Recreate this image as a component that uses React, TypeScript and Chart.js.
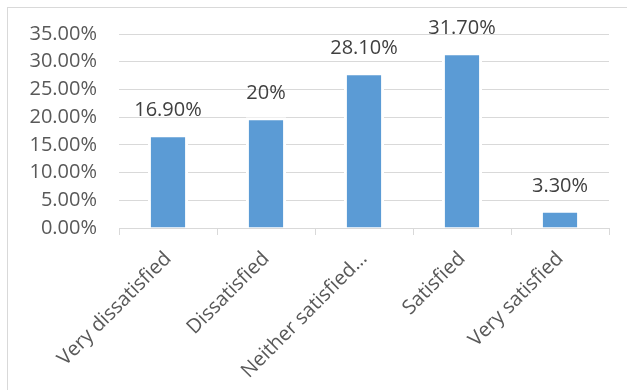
import React, { useEffect, useRef } from "react";
import { Chart, registerables } from "chart.js";

Chart.register(...registerables);

// Survey responses: share of respondents per satisfaction level (percent)
const categories = [
  "Very dissatisfied",
  "Dissatisfied",
  "Neither satisfied…",
  "Satisfied",
  "Very satisfied",
];
const shares = [16.9, 20, 28.1, 31.7, 3.3];
const yTickMax = 35;
const yTickStep = 5;

const FONT = "'Open Sans', 'Liberation Sans', sans-serif";
const TEXT = "#595959";
const LABEL = "#404040";
const GRID = "#d9d9d9";
const BAR = "#5b9bd5";

const fmtValue = (v: number) =>
  Number.isInteger(v) ? `${v}%` : `${v.toFixed(2)}%`;

// Writes each bar's value above it
const valueLabels = {
  id: "valueLabels",
  afterDatasetsDraw(chart: any) {
    const { ctx } = chart;
    const meta = chart.getDatasetMeta(0);
    ctx.save();
    ctx.font = `20px ${FONT}`;
    ctx.fillStyle = LABEL;
    ctx.textAlign = "center";
    ctx.textBaseline = "alphabetic";
    meta.data.forEach((bar: any, i: number) => {
      ctx.fillText(fmtValue(shares[i]), bar.x, bar.y - 18);
    });
    ctx.restore();
  },
};

export default function App() {
  const canvasRef = useRef<HTMLCanvasElement | null>(null);

  useEffect(() => {
    if (!canvasRef.current) return;
    const chart = new Chart(canvasRef.current, {
      type: "bar",
      data: {
        labels: categories,
        datasets: [
          {
            data: shares,
            backgroundColor: BAR,
            borderColor: "#ffffff",
            borderWidth: 3,
            categoryPercentage: 1,
            barPercentage: 0.41,
          },
        ],
      },
      options: {
        animation: false,
        responsive: false,
        maintainAspectRatio: false,
        layout: { padding: { top: 30, right: 18, left: 0, bottom: 0 } },
        plugins: {
          legend: { display: false },
          tooltip: { enabled: false },
        },
        scales: {
          x: {
            offset: true,
            grid: {
              offset: true,
              drawOnChartArea: false,
              drawTicks: true,
              tickLength: 7,
              color: GRID,
            },
            border: { display: true, color: GRID },
            ticks: {
              color: TEXT,
              font: { family: FONT, size: 20 },
              maxRotation: 45,
              minRotation: 45,
              padding: 12,
              autoSkip: false,
            },
            afterFit(scale: any) {
              scale.height = 162;
            },
          },
          y: {
            min: 0,
            max: yTickMax,
            border: { display: false },
            grid: { color: GRID, drawTicks: false, lineWidth: 1 },
            ticks: {
              stepSize: yTickStep,
              color: TEXT,
              font: { family: FONT, size: 20 },
              padding: 22,
              callback: (v: any) => `${Number(v).toFixed(2)}%`,
            },
            afterFit(scale: any) {
              scale.width = 119;
            },
          },
        },
      },
      plugins: [valueLabels],
    });
    return () => chart.destroy();
  }, []);

  return (
    <div
      style={{
        position: "fixed",
        left: 0,
        top: 0,
        width: 627,
        height: 390,
        background: "#ffffff",
        overflow: "hidden",
      }}
    >
      <div
        style={{
          position: "absolute",
          left: 7,
          top: 7,
          width: 640,
          height: 400,
          border: `1px solid ${GRID}`,
        }}
      />
      <canvas
        ref={canvasRef}
        width={627}
        height={390}
        style={{ position: "absolute", left: 0, top: 0 }}
      />
    </div>
  );
}
